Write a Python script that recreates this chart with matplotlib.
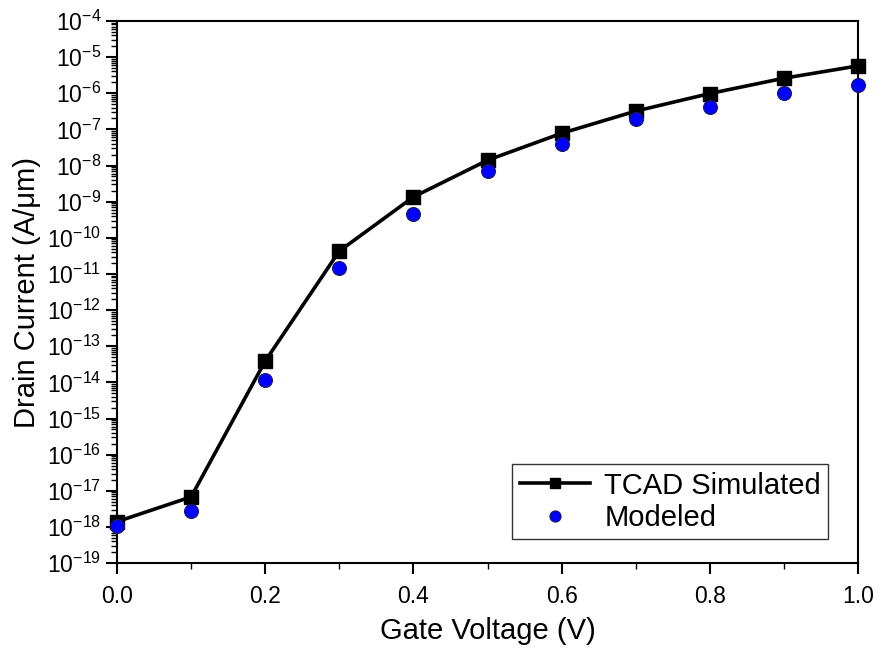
import matplotlib
matplotlib.use('Agg')
import matplotlib.pyplot as plt
import numpy as np
from matplotlib.ticker import LogLocator, MultipleLocator

plt.rcParams['font.family'] = ['Liberation Sans', 'DejaVu Sans']
plt.rcParams['mathtext.default'] = 'regular'
plt.rcParams['axes.unicode_minus'] = False

# gate voltage (V)
vg = [0.0, 0.1, 0.2, 0.3, 0.4, 0.5, 0.6, 0.7, 0.8, 0.9, 1.0]
# drain current (A/um)
tcad = [1.4e-18, 6.8e-18, 3.9e-14, 4.3e-11, 1.35e-9, 1.4e-8, 7.8e-8, 3.2e-7, 9.8e-7, 2.6e-6, 5.7e-6]
modeled = [1.07e-18, 2.8e-18, 1.2e-14, 1.5e-11, 4.5e-10, 6.9e-9, 3.9e-8, 1.9e-7, 4.1e-7, 1.0e-6, 1.65e-6]

fig = plt.figure(figsize=(8.8, 6.54), dpi=100)
ax = fig.add_axes([0.133, 0.139, 0.842, 0.829])

ax.plot(vg, tcad, color='black', lw=2.6, marker='s', ms=9.5,
        label='TCAD Simulated', clip_on=False, zorder=3)
ax.plot(vg, modeled, ls='none', marker='o', ms=10, mfc='#0000ff',
        mec='#1a1a5a', mew=0.8, label='Modeled', clip_on=False, zorder=4)

ax.set_yscale('log')
ax.set_xlim(0, 1.0)
ax.set_ylim(1e-19, 1e-4)
ax.yaxis.set_major_locator(LogLocator(base=10, numticks=20))
ax.yaxis.set_minor_locator(LogLocator(base=10, subs=np.arange(2, 10), numticks=200))
ax.xaxis.set_major_locator(MultipleLocator(0.2))
ax.xaxis.set_minor_locator(MultipleLocator(0.1))
ax.xaxis.set_major_formatter(matplotlib.ticker.FormatStrFormatter('%.1f'))

ax.tick_params(which='major', direction='out', length=8, width=1.5, labelsize=16.5)
ax.tick_params(axis='x', which='major', pad=8)
ax.tick_params(which='minor', direction='out', length=4, width=1.0)
for s in ax.spines.values():
    s.set_linewidth(1.5)

ax.set_xlabel('Gate Voltage (V)', fontsize=21, labelpad=6)
ax.set_ylabel('Drain Current (A/μm)', fontsize=21, labelpad=4)

leg = ax.legend(loc='lower right', bbox_to_anchor=(0.96, 0.044), fontsize=21,
                frameon=True, fancybox=False, edgecolor='black', handlelength=2.4,
                borderpad=0.25, labelspacing=0.15, handletextpad=0.5,
                borderaxespad=0, markerscale=0.8)
leg.get_frame().set_linewidth(1.0)

plt.savefig('out.png', dpi=100)
